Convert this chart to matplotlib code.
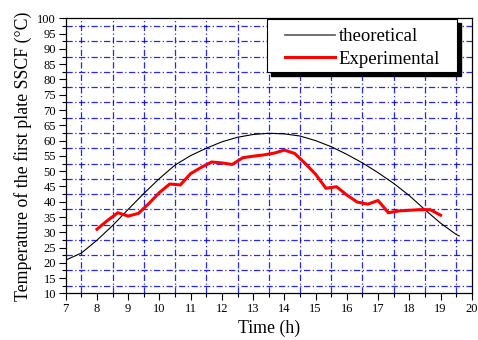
import numpy as np
import matplotlib
matplotlib.use("Agg")
import matplotlib.pyplot as plt
import matplotlib.transforms as mtransforms
from matplotlib.patches import Rectangle
from matplotlib.ticker import MultipleLocator

plt.rcParams["font.family"] = ["Liberation Serif", "DejaVu Serif"]

# theoretical curve
t_theo = [7.0, 7.5, 8.0, 8.5, 9.0, 9.5, 10.0, 10.5, 11.0, 11.5, 12.0, 12.5, 13.0,
          13.5, 14.0, 14.5, 15.0, 15.5, 16.0, 16.5, 17.0, 17.5, 18.0, 18.5, 19.0,
          19.5, 19.6]
T_theo = [20.9, 23.2, 27.4, 32.2, 37.5, 42.7, 47.6, 52.0, 55.1, 57.5, 59.6, 61.1,
          62.0, 62.4, 62.2, 61.5, 60.0, 58.0, 55.5, 52.7, 49.5, 46.0, 42.0, 37.4,
          33.0, 29.3, 28.8]

# experimental measurements, every 20 min
t_exp = [8.0, 8.33, 8.67, 9.0, 9.33, 9.67, 10.0, 10.33, 10.67, 11.0, 11.33, 11.67,
         12.0, 12.33, 12.67, 13.0, 13.33, 13.67, 14.0, 14.33, 14.67, 15.0, 15.33,
         15.67, 16.0, 16.33, 16.67, 17.0, 17.33, 17.67, 18.0, 18.33, 18.67, 19.0]
T_exp = [31.0, 33.8, 36.4, 35.3, 36.2, 39.5, 43.0, 45.8, 45.5, 49.2, 51.2, 53.0,
         52.7, 52.2, 54.4, 54.9, 55.3, 55.9, 56.9, 55.8, 52.5, 49.0, 44.4, 44.9,
         42.2, 39.9, 39.2, 40.4, 36.4, 37.0, 37.2, 37.4, 37.4, 35.6]

fig = plt.figure(figsize=(4.78, 3.40), dpi=100)
ax = fig.add_axes([0.1375, 0.137, 0.8495, 0.809])

ax.plot(t_theo, T_theo, color="black", linewidth=0.8, label="theoretical", zorder=3)
ax.plot(t_exp, T_exp, color="#ff0000", linewidth=2.2, label="Experimental", zorder=4)

ax.set_xlim(7, 20)
ax.set_ylim(10, 100)
ax.xaxis.set_major_locator(MultipleLocator(1))
ax.xaxis.set_minor_locator(MultipleLocator(0.5))
ax.yaxis.set_major_locator(MultipleLocator(5))
ax.yaxis.set_minor_locator(MultipleLocator(2.5))
ax.tick_params(which="major", direction="out", length=5, width=0.8, labelsize=9,
               top=False, right=False, pad=2)
ax.tick_params(which="minor", direction="out", length=3, width=0.8,
               top=False, right=False)
ax.grid(which="minor", color="#0000ff", linewidth=0.9, linestyle=(0, (5, 2, 1, 2)),
        alpha=0.85)
ax.grid(which="major", visible=False)

for s in ax.spines.values():
    s.set_linewidth(0.9)

ax.set_xlabel("Time (h)", fontsize=12.8, labelpad=3)
ax.set_ylabel("Temperature of the first plate SSCF (\u00b0C)", fontsize=12.8, labelpad=4)

# legend frame with solid black drop shadow
box_x0, box_y0, box_w, box_h = 0.496, 0.805, 0.4685, 0.193
shadow_tr = mtransforms.offset_copy(ax.transAxes, fig=fig, x=4, y=-4, units="dots")
ax.add_patch(Rectangle((box_x0, box_y0), box_w, box_h, transform=shadow_tr,
                       facecolor="black", edgecolor="black", zorder=6, clip_on=False))
ax.add_patch(Rectangle((box_x0, box_y0), box_w, box_h, transform=ax.transAxes,
                       facecolor="white", edgecolor="black", linewidth=0.8,
                       zorder=7, clip_on=False))

leg = ax.legend(loc="center left", bbox_to_anchor=(0.540, 0.892), fontsize=13.5,
                frameon=False, borderpad=0, borderaxespad=0,
                handlelength=2.67, handletextpad=0.18, labelspacing=0.3)
leg.set_zorder(8)
leg.get_lines()[0].set_color("#666666")
leg.get_lines()[0].set_linewidth(1.3)

fig.savefig("out.png", dpi=100)
